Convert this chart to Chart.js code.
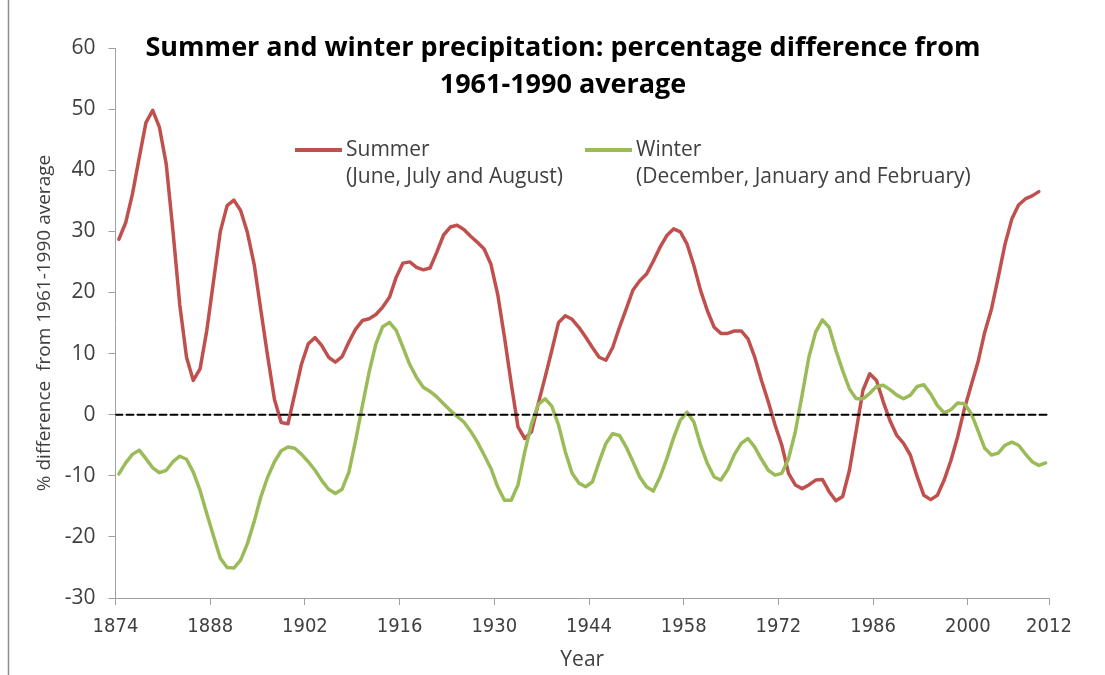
<!DOCTYPE html>
<html>
<head>
<meta charset="utf-8">
<script src="https://cdn.jsdelivr.net/npm/chart.js@4.4.0/dist/chart.umd.min.js"></script>
<style>
  html, body { margin: 0; padding: 0; background: #fff; }
  #wrap { width: 1105px; height: 675px; position: relative; }
</style>
</head>
<body>
<div id="wrap"><canvas id="chart" width="1105" height="675"></canvas></div>
<script>
// ==========================================================================
// Data (one value per year)
// ==========================================================================
const firstYear = 1874;
const xTickYears = [1874, 1888, 1902, 1916, 1930, 1944, 1958, 1972, 1986, 2000, 2012];
const yTickValues = [-30, -20, -10, 0, 10, 20, 30, 40, 50, 60];

// Summer (June, July and August), 1874-2010
const summerValues = [
  28.7, 31.4, 36.1, 42.0, 47.8, 49.8, 47.0, 41.0, 30.0, 18.0,
  9.4, 5.6, 7.5, 13.8, 21.9, 30.0, 34.2, 35.1, 33.4, 29.8,
  24.6, 17.0, 9.5, 2.5, -1.3, -1.5, 3.4, 8.3, 11.6, 12.6,
  11.3, 9.4, 8.6, 9.5, 11.9, 14.0, 15.4, 15.7, 16.4, 17.6,
  19.2, 22.5, 24.8, 25.0, 24.1, 23.7, 24.0, 26.6, 29.4, 30.7,
  31.0, 30.3, 29.2, 28.2, 27.1, 24.6, 19.7, 12.7, 5.1, -2.0,
  -3.9, -2.8, 1.8, 6.1, 10.5, 15.1, 16.2, 15.6, 14.3, 12.7,
  11.0, 9.4, 8.9, 11.0, 14.3, 17.3, 20.4, 21.9, 23.0, 25.1,
  27.4, 29.3, 30.4, 29.9, 27.9, 24.4, 20.3, 17.0, 14.3, 13.3,
  13.3, 13.7, 13.7, 12.4, 9.4, 5.6, 2.1, -1.7, -5.0, -9.6,
  -11.5, -12.1, -11.5, -10.7, -10.6, -12.6, -14.1, -13.4, -9.1, -2.6,
  4.0, 6.7, 5.6, 2.1, -1.0, -3.4, -4.7, -6.6, -10.1, -13.2,
  -13.9, -13.2, -10.7, -7.5, -3.6, 1.0, 4.8, 8.6, 13.5, 17.3,
  22.5, 27.9, 32.0, 34.3, 35.3, 35.8, 36.5
];

// Winter (December, January and February), 1874-2011
const winterValues = [
  -9.7, -7.9, -6.5, -5.8, -7.2, -8.7, -9.5, -9.1, -7.7, -6.8,
  -7.3, -9.4, -12.4, -16.2, -19.9, -23.5, -25.0, -25.1, -23.8, -21.1,
  -17.5, -13.4, -10.2, -7.7, -5.9, -5.3, -5.5, -6.5, -7.7, -9.1,
  -10.8, -12.2, -12.9, -12.2, -9.4, -4.2, 1.5, 7.0, 11.6, 14.4,
  15.1, 13.8, 11.0, 8.2, 6.1, 4.5, 3.8, 2.9, 1.8, 0.7,
  -0.3, -1.2, -2.7, -4.5, -6.6, -8.8, -11.8, -14.0, -14.0, -11.5,
  -6.1, -1.5, 1.7, 2.6, 1.4, -1.7, -6.1, -9.6, -11.2, -11.8,
  -11.0, -7.7, -4.7, -3.1, -3.4, -5.3, -7.7, -10.2, -11.8, -12.5,
  -10.2, -7.2, -3.8, -0.9, 0.4, -1.2, -5.0, -8.0, -10.2, -10.7,
  -9.0, -6.5, -4.7, -3.9, -5.3, -7.3, -9.1, -9.9, -9.6, -7.2,
  -2.8, 3.2, 9.4, 13.5, 15.5, 14.3, 10.5, 7.2, 4.2, 2.6,
  2.6, 3.5, 4.6, 4.8, 4.1, 3.2, 2.6, 3.2, 4.6, 4.9,
  3.4, 1.5, 0.3, 0.8, 1.9, 1.8, 0.2, -2.6, -5.5, -6.6,
  -6.3, -5.0, -4.5, -5.0, -6.4, -7.7, -8.3, -7.9
];

// dashed reference line at the 1961-1990 average
const zeroYears = [1874, 2012];
const zeroValues = [0, 0];

// ==========================================================================
// Styles
// ==========================================================================
const RED = '#c0504d';
const GREEN = '#9bbb59';
const AXIS = '#a0a0a0';
const TEXT = '#404040';

// each yearly value sits in the middle of its year slot
const toPoints = (vals) => vals.map((v, i) => ({ x: firstYear + i + 0.5, y: v }));

// ==========================================================================
// Title, legend and frame (drawn on top of the chart)
// ==========================================================================
const decorPlugin = {
  id: 'decor',
  afterDraw(chart) {
    const ctx = chart.ctx;
    ctx.save();

    // left frame edge
    ctx.strokeStyle = '#8c8c8c';
    ctx.lineWidth = 1.5;
    ctx.beginPath();
    ctx.moveTo(8.5, 0);
    ctx.lineTo(8.5, 675);
    ctx.stroke();

    // title
    ctx.fillStyle = '#000';
    ctx.font = 'bold 27px "Open Sans"';
    ctx.textAlign = 'center';
    ctx.textBaseline = 'middle';
    ctx.fillText('Summer and winter precipitation: percentage difference from', 563, 48);
    ctx.fillText('1961-1990 average', 563, 85);

    // legend
    const items = [
      { color: RED, x: 295, lines: ['Summer', '(June, July and August)'] },
      { color: GREEN, x: 585, lines: ['Winter', '(December, January and February)'] }
    ];
    items.forEach(item => {
      ctx.strokeStyle = item.color;
      ctx.lineWidth = 4;
      ctx.lineCap = 'butt';
      ctx.beginPath();
      ctx.moveTo(item.x, 150);
      ctx.lineTo(item.x + 47, 150);
      ctx.stroke();

      ctx.fillStyle = TEXT;
      ctx.font = '21px "Open Sans"';
      ctx.textAlign = 'left';
      ctx.fillText(item.lines[0], item.x + 51, 150);
      ctx.fillText(item.lines[1], item.x + 51, 177);
    });

    ctx.restore();
  }
};

// ==========================================================================
// Chart
// ==========================================================================
const ctx = document.getElementById('chart').getContext('2d');
new Chart(ctx, {
  type: 'line',
  data: {
    datasets: [
      {
        label: 'Average',
        data: zeroYears.map((yr, i) => ({ x: yr, y: zeroValues[i] })),
        borderColor: '#000',
        borderWidth: 2,
        borderDash: [7, 4],
        order: 0
      },
      {
        label: 'Winter (December, January and February)',
        data: toPoints(winterValues),
        borderColor: GREEN,
        borderWidth: 3.5,
        order: 1
      },
      {
        label: 'Summer (June, July and August)',
        data: toPoints(summerValues),
        borderColor: RED,
        borderWidth: 3.5,
        order: 2
      }
    ]
  },
  options: {
    responsive: false,
    animation: false,
    layout: { padding: { left: 20, right: 56, top: 48, bottom: 0 } },
    elements: {
      point: { radius: 0, hoverRadius: 0 },
      line: { tension: 0, fill: false, borderCapStyle: 'round', borderJoinStyle: 'round' }
    },
    plugins: {
      legend: { display: false },
      tooltip: { enabled: false }
    },
    scales: {
      x: {
        type: 'linear',
        min: 1874,
        max: 2012,
        afterBuildTicks: (scale) => { scale.ticks = xTickYears.map(v => ({ value: v })); },
        afterFit: (scale) => { scale.height = 77; },
        grid: { drawOnChartArea: false, drawTicks: true, tickLength: 7, color: AXIS },
        border: { display: true, color: AXIS, width: 1 },
        ticks: {
          color: TEXT,
          font: { family: '"Liberation Sans Narrow", "DejaVu Sans Condensed", sans-serif', size: 20 },
          padding: 10,
          maxRotation: 0,
          autoSkip: false,
          callback: (v) => String(v)
        },
        title: {
          display: true,
          text: 'Year',
          color: TEXT,
          font: { family: '"Open Sans"', size: 21 },
          padding: { top: 0, bottom: 2 }
        }
      },
      y: {
        min: -30,
        max: 60,
        afterBuildTicks: (scale) => { scale.ticks = yTickValues.map(v => ({ value: v })); },
        afterFit: (scale) => { scale.width = 95.5; },
        grid: { drawOnChartArea: false, drawTicks: true, tickLength: 7, color: AXIS },
        border: { display: true, color: AXIS, width: 1 },
        ticks: {
          color: TEXT,
          font: { family: '"Open Sans"', size: 21 },
          padding: 13
        },
        title: {
          display: true,
          text: '% difference  from 1961-1990 average',
          color: TEXT,
          font: { family: '"Open Sans"', size: 19 },
          padding: { top: 13, bottom: 0 }
        }
      }
    }
  },
  plugins: [decorPlugin]
});
</script>
</body>
</html>
